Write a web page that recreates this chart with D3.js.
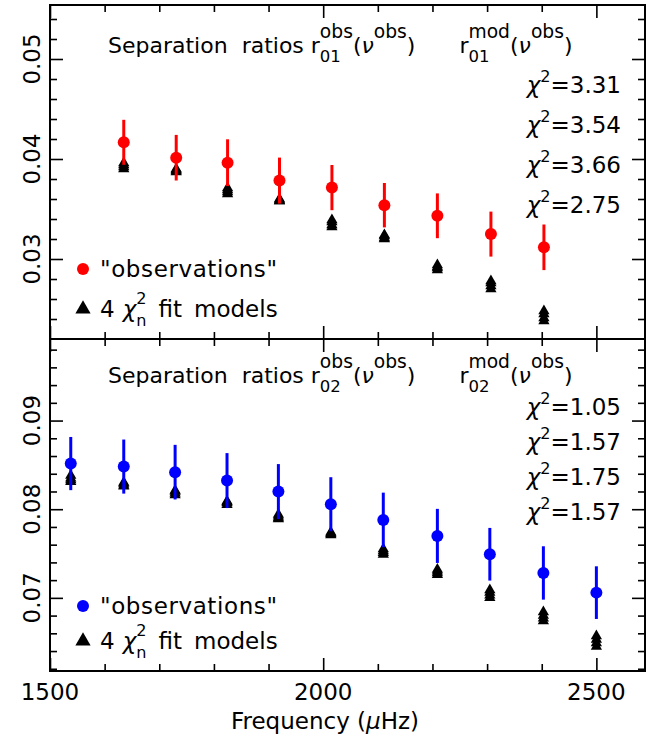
<!DOCTYPE html>
<html><head><meta charset="utf-8">
<script src="https://cdn.jsdelivr.net/npm/d3@7"></script>
<style>
body{margin:0;background:#fff;}
text{font-family:"DejaVu Sans",sans-serif;fill:#000;}
</style></head>
<body><svg id="c" width="660" height="742"></svg>
<script>
// ---------- data ----------
const topFreq = [1635, 1731, 1825, 1920, 2016, 2112, 2209, 2307, 2404];
const r01Obs  = [0.04167, 0.04013, 0.03963, 0.03784, 0.03714, 0.03538, 0.03432, 0.03249, 0.03117];
const r01Err  = [0.00225, 0.00228, 0.00234, 0.00230, 0.00226, 0.00222, 0.00224, 0.00225, 0.00228];
const r01Mod1 = [0.0396, 0.0390, 0.0371, 0.0360, 0.0339, 0.0324, 0.0294, 0.0278, 0.0248];
const r01Mod2 = [0.0394, 0.0389, 0.0369, 0.0359, 0.0337, 0.0323, 0.0292, 0.0276, 0.0245];
const r01Mod3 = [0.0392, 0.0388, 0.0367, 0.0358, 0.0334, 0.0321, 0.0291, 0.0273, 0.0241];
const r01Mod4 = [0.0390, 0.0387, 0.0365, 0.0358, 0.0332, 0.0320, 0.0289, 0.0270, 0.0238];
const r01Chi2 = ["3.31", "3.54", "3.66", "2.75"];

const botFreq = [1538, 1635, 1729, 1824, 1918, 2014, 2110, 2209, 2305, 2403, 2500];
const r02Obs  = [0.08515, 0.08481, 0.08418, 0.08323, 0.08199, 0.08056, 0.07879, 0.07699, 0.07492, 0.07281, 0.07059];
const r02Err  = [0.00300, 0.00305, 0.00308, 0.00310, 0.00310, 0.00305, 0.00308, 0.00305, 0.00297, 0.00301, 0.00297];
const r02Mod1 = [0.0838, 0.0830, 0.0821, 0.0809, 0.0794, 0.0774, 0.0755, 0.0732, 0.0709, 0.0684, 0.0657];
const r02Mod2 = [0.0835, 0.0829, 0.0820, 0.0808, 0.0792, 0.0773, 0.0753, 0.0730, 0.0706, 0.0680, 0.0653];
const r02Mod3 = [0.0833, 0.0827, 0.0818, 0.0807, 0.0790, 0.0772, 0.0751, 0.0728, 0.0703, 0.0677, 0.0649];
const r02Mod4 = [0.0831, 0.0826, 0.0816, 0.0805, 0.0789, 0.0771, 0.0749, 0.0726, 0.0700, 0.0674, 0.0645];
const r02Chi2 = ["1.05", "1.57", "1.75", "1.57"];

const xMajor = [1500, 2000, 2500];
const xMinor = [1600, 1700, 1800, 1900, 2100, 2200, 2300, 2400];
const topMajor = [0.03, 0.04, 0.05];
const topMinor = [0.024, 0.026, 0.028, 0.032, 0.034, 0.036, 0.038, 0.042, 0.044, 0.046, 0.048, 0.052, 0.054];
const botMajor = [0.07, 0.08, 0.09];
const botMinor = [0.062, 0.064, 0.066, 0.068, 0.072, 0.074, 0.076, 0.078, 0.082, 0.084, 0.086, 0.088, 0.092, 0.094, 0.096, 0.098];

// ---------- layout ----------
const L = 50, R = 645, T = 5, M = 339, B = 671;
const FS = 23;
const svg = d3.select("#c");
const x = d3.scaleLinear().domain([1500, 2589]).range([L, R]);
const yTop = d3.scaleLinear().domain([0.0220, 0.0554]).range([M, T]);
const yBot = d3.scaleLinear().domain([0.06175, 0.0992]).range([B, M]);

// opts: fs base size, supK/subK size factors, supDy/subDy offsets as fraction of fs
function rich(g, x0, y0, parts, anchor, o) {
  o = Object.assign({fs: FS, supK: 0.7, subK: 0.7, supDy: -0.5, subDy: 0.33}, o || {});
  const F = o.fs;
  const grp = g.append("g");
  let cx = x0, lastStart = x0, lastW = 0;
  parts.forEach(p => {
    if (p.gap) { cx += p.gap; return; }
    const fs = p.type === "sup" ? F * o.supK : p.type === "sub" ? F * o.subK : F;
    const dy = p.type === "sup" ? F * o.supDy : p.type === "sub" ? F * o.subDy : 0;
    const sx = p.stack ? lastStart : cx;
    const t = grp.append("text").attr("x", sx).attr("y", y0 + dy)
      .attr("font-size", fs).text(p.t);
    if (p.it) t.attr("font-style", "italic");
    const w = t.node().getComputedTextLength();
    if (p.stack) { cx = Math.max(lastStart + lastW, sx + w); }
    else { cx = sx + w; lastStart = sx; lastW = w; }
  });
  if (anchor === "end") grp.attr("transform", `translate(${x0 - cx},0)`);
  return grp;
}

function panel(y, major, minor, freq, obs, err, mods, color, chi2, sub, cfg) {
  const g = svg.append("g");
  const top = y.range()[1], bot = y.range()[0];
  const ML = 13, MS = 7;
  const ax = [
    [d3.axisBottom(x), `translate(0,${bot})`, xMajor, ML],
    [d3.axisBottom(x), `translate(0,${bot})`, xMinor, MS],
    [d3.axisTop(x), `translate(0,${top})`, xMajor, ML],
    [d3.axisTop(x), `translate(0,${top})`, xMinor, MS],
    [d3.axisLeft(y), `translate(${L},0)`, major, ML],
    [d3.axisLeft(y), `translate(${L},0)`, minor, MS],
    [d3.axisRight(y), `translate(${R},0)`, major, ML],
    [d3.axisRight(y), `translate(${R},0)`, minor, MS]
  ];
  ax.forEach(([a, tr, vals, len]) => {
    const s = g.append("g").attr("transform", tr)
      .call(a.tickValues(vals).tickSize(-len).tickFormat(""));
    s.select(".domain").remove();
    s.selectAll("line").attr("stroke", "#000").attr("stroke-width", 1.6);
  });
  g.append("rect").attr("x", L).attr("y", top).attr("width", R - L).attr("height", bot - top)
    .attr("fill", "none").attr("stroke", "#000").attr("stroke-width", 2);
  g.selectAll(".yl").data(major).enter().append("text")
    .attr("transform", d => `translate(40,${y(d)}) rotate(-90)`)
    .attr("text-anchor", "middle").attr("font-size", FS).text(d => d.toFixed(2));
  const tri = d3.symbol().type(d3.symbolTriangle).size(55);
  mods.forEach(m => {
    g.selectAll(null).data(m).enter().append("path")
      .attr("d", tri).attr("fill", "#000")
      .attr("transform", (d, i) => `translate(${x(freq[i])},${y(d)})`);
  });
  g.selectAll(null).data(obs).enter().append("line")
    .attr("x1", (d, i) => x(freq[i])).attr("x2", (d, i) => x(freq[i]))
    .attr("y1", (d, i) => y(d - err[i])).attr("y2", (d, i) => y(d + err[i]))
    .attr("stroke", color).attr("stroke-width", 3);
  g.selectAll(null).data(obs).enter().append("circle")
    .attr("cx", (d, i) => x(freq[i])).attr("cy", d => y(d)).attr("r", 6).attr("fill", color);
  rich(g, 108, cfg.titleY, [
    {t: "Separation"}, {gap: 14}, {t: "ratios"}, {gap: 7}, {t: "r"}, {t: sub, type: "sub"}, {t: "obs", type: "sup", stack: true},
    {t: "("}, {t: "ν", it: true}, {t: "obs", type: "sup"}, {t: ")"}, {gap: 44},
    {t: "r"}, {t: sub, type: "sub"}, {t: "mod", type: "sup", stack: true},
    {t: "("}, {t: "ν", it: true}, {t: "obs", type: "sup"}, {t: ")"}
  ], null, {fs: 22, supK: 0.85, subK: 0.75, supDy: -0.68, subDy: 0.4});
  chi2.forEach((c, i) => {
    rich(g, 621, cfg.chiY0 + i * cfg.chiDy, [{t: "χ", it: true}, {t: "2", type: "sup"}, {t: "=" + c}], "end");
  });
  g.append("circle").attr("cx", 83).attr("cy", cfg.legY1).attr("r", 6).attr("fill", color);
  g.append("text").attr("x", 100).attr("y", cfg.legY1 + 8).attr("font-size", FS)
    .attr("letter-spacing", 0.6).text('"observations"');
  g.append("path").attr("d", d3.symbol().type(d3.symbolTriangle).size(100)())
    .attr("transform", `translate(83,${cfg.legY2})`).attr("fill", "#000");
  rich(g, 100, cfg.legY2 + 8, [{t: "4"}, {gap: 8}, {t: "χ", it: true}, {t: "n", type: "sub"},
    {t: "2", type: "sup", stack: true}, {gap: 12}, {t: "fit"}, {gap: 12}, {t: "models"}],
    null, {supDy: -0.55, subDy: 0.38});
}

panel(yTop, topMajor, topMinor, topFreq, r01Obs, r01Err, [r01Mod1, r01Mod2, r01Mod3, r01Mod4],
  "#ff0000", r01Chi2, "01", {titleY: 53, chiY0: 93, chiDy: 40, legY1: 269, legY2: 309});
panel(yBot, botMajor, botMinor, botFreq, r02Obs, r02Err, [r02Mod1, r02Mod2, r02Mod3, r02Mod4],
  "#0000ff", r02Chi2, "02", {titleY: 383, chiY0: 415, chiDy: 35, legY1: 606, legY2: 641});

svg.selectAll(".xl").data(xMajor).enter().append("text")
  .attr("x", d => x(d)).attr("y", 700).attr("text-anchor", "middle").attr("font-size", FS).text(d => d);
const xt = svg.append("text").attr("x", 325).attr("y", 729).attr("text-anchor", "middle").attr("font-size", FS);
xt.append("tspan").text("Frequency (");
xt.append("tspan").attr("font-style", "italic").text("μ");
xt.append("tspan").text("Hz)");
</script></body></html>
